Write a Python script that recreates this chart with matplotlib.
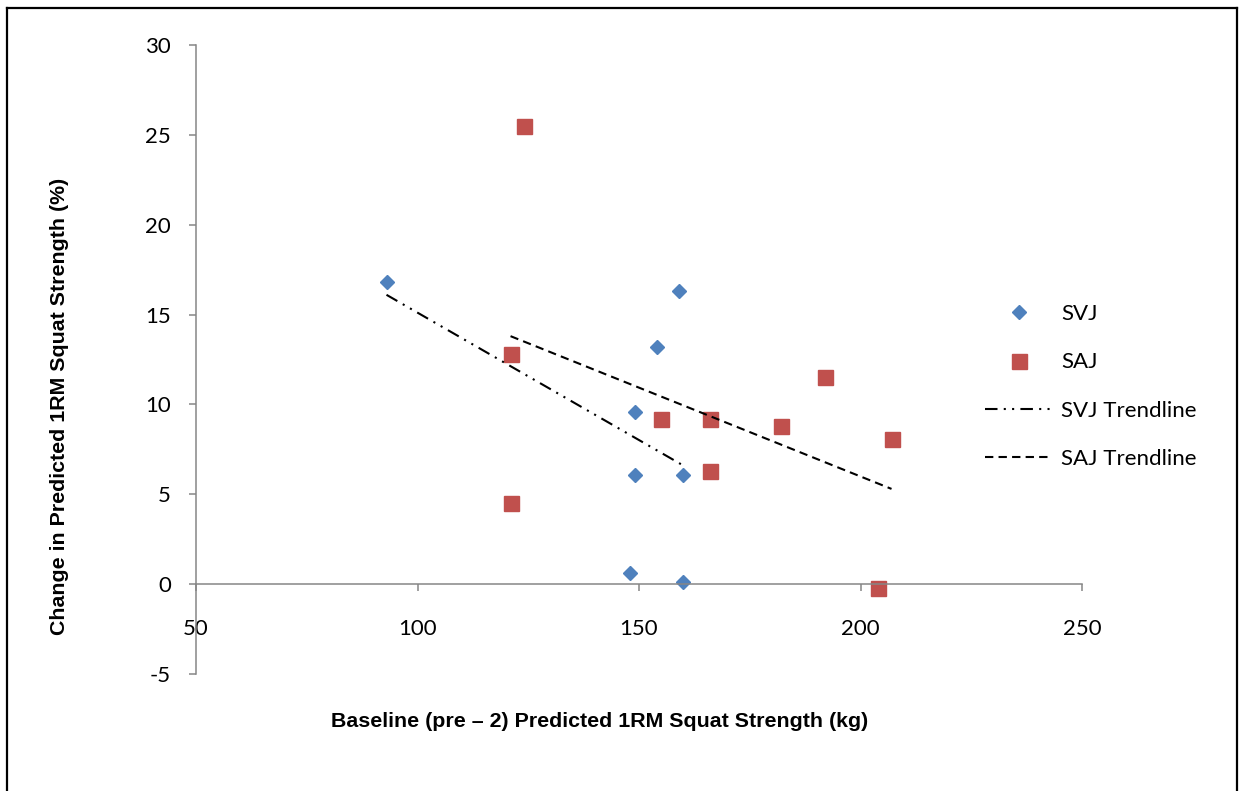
import numpy as np
from matplotlib import pyplot as plt
from matplotlib.lines import Line2D

plt.rcParams['axes.unicode_minus'] = False

# Data
svj_x = [93, 159, 154, 149, 149, 160, 148, 160]
svj_y = [16.8, 16.3, 13.2, 9.6, 6.1, 6.1, 0.6, 0.1]

saj_x = [124, 121, 121, 155, 166, 166, 182, 192, 207, 204]
saj_y = [25.5, 12.8, 4.5, 9.2, 9.2, 6.3, 8.8, 11.5, 8.1, -0.2]

# Trendline end points (as drawn in the reference)
svj_trend_x = [93, 160]
svj_trend_y = [16.1, 6.6]
saj_trend_x = [121, 207]
saj_trend_y = [13.8, 5.3]

x_ticks = [50, 100, 150, 200, 250]
y_ticks = [-5, 0, 5, 10, 15, 20, 25, 30]

tick_font = 'Lato'
label_font = 'Liberation Sans'
axis_grey = '#868686'

fig = plt.figure(figsize=(12.39, 7.91), dpi=100)
ax = fig.add_axes([0.1582, 0.1479, 0.7151, 0.7952])

ax.plot(svj_x, svj_y, linestyle='none', marker='D', markersize=7.2,
        color='#4F81BD', label='SVJ')
ax.plot(saj_x, saj_y, linestyle='none', marker='s', markersize=10.8,
        color='#C0504D', label='SAJ')
ax.plot(svj_trend_x, svj_trend_y, color='black', linewidth=1.5,
        dashes=(6, 3, 1, 3, 1, 3), label='SVJ Trendline')
ax.plot(saj_trend_x, saj_trend_y, color='black', linewidth=1.5,
        dashes=(4, 2.5), label='SAJ Trendline')

ax.set_xlim(50, 250)
ax.set_ylim(-5, 30)
ax.set_xticks(x_ticks)
ax.set_yticks(y_ticks)

# Excel-style axes: y axis at x=50, x axis crossing at y=0
for side in ['top', 'right']:
    ax.spines[side].set_visible(False)
ax.spines['bottom'].set_position(('data', 0))
ax.spines['left'].set_position(('data', 50))
for side in ['bottom', 'left']:
    ax.spines[side].set_color(axis_grey)
    ax.spines[side].set_linewidth(1.1)

ax.tick_params(axis='x', direction='out', length=5, width=1.1,
               color=axis_grey, pad=20, labelsize=16)
ax.tick_params(axis='y', direction='out', length=5, width=1.1,
               color=axis_grey, pad=13, labelsize=16)
for lab in ax.get_xticklabels() + ax.get_yticklabels():
    lab.set_fontfamily(tick_font)

fig.text(0.0484, 0.486, 'Change in Predicted 1RM Squat Strength (%)',
         rotation=90, ha='center', va='center', fontsize=15.4,
         fontweight='bold', family=label_font)
fig.text(0.4843, 0.088, 'Baseline (pre \u2013 2) Predicted 1RM Squat Strength (kg)',
         ha='center', va='center', fontsize=15.4, fontweight='bold',
         family=label_font)

leg = ax.legend(loc='upper left', bbox_to_anchor=(0.881, 0.6025),
                frameon=False, prop={'family': tick_font, 'size': 16},
                handlelength=3.0, labelspacing=1.28, handletextpad=0.4,
                borderaxespad=0)

# Outer frame around the chart area
frame_kw = dict(color='black', linewidth=1.6, transform=fig.transFigure)
fig.add_artist(Line2D([7 / 1239, 7 / 1239], [0, 1 - 8 / 791], **frame_kw))
fig.add_artist(Line2D([7 / 1239, 1237 / 1239], [1 - 8 / 791, 1 - 8 / 791], **frame_kw))
fig.add_artist(Line2D([1237 / 1239, 1237 / 1239], [0, 1 - 8 / 791], **frame_kw))

plt.savefig('out.png', dpi=100)
